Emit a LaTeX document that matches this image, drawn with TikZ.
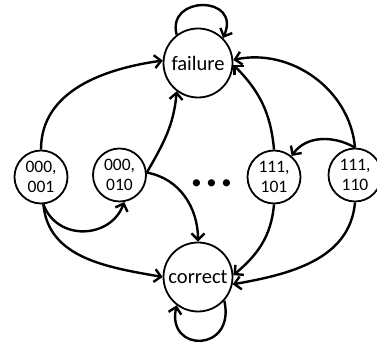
\documentclass[tikz,border=0pt]{standalone}
\usepackage{fontspec}
\setmainfont{Carlito}
\usetikzlibrary{arrows.meta}
\begin{document}
\begin{tikzpicture}[x=1pt,y=1pt,
  bigstate/.style={circle, draw, line width=1.8pt, inner sep=0pt, minimum size=69pt,
    font=\fontsize{20.5}{24}\selectfont},
  smallstate/.style={circle, draw, line width=1.8pt, inner sep=0pt, minimum size=53pt,
    align=center, font=\fontsize{17.5}{20}\selectfont},
  edge/.style={line width=2.4pt, -{Straight Barb[length=6.5pt,width=13pt]}}]
\useasboundingbox (0,0) rectangle (377,347);
\node[bigstate] (F) at (198,284) {failure};
\node[bigstate] (C) at (198,70) {correct};
\node[smallstate] (A) at (41,170) {000,\\001};
\node[smallstate] (B) at (119.5,172) {000,\\010};
\node[smallstate] (D) at (274,170) {111,\\101};
\node[smallstate] (E) at (355,172) {111,\\110};
\node[font=\fontsize{48}{48}\selectfont\bfseries] (dots) at (212,164) {.\hspace{1.8pt}.\hspace{1.8pt}.};
% self loops
\draw[edge] (F.127) .. controls (166,352) and (242,352) .. (F.45);
\draw[edge] (C.-42) .. controls (236,-6) and (166,-6) .. (C.-127);
% from A
\draw[edge] (A.north) to[out=90,in=188] (F.176);
\draw[edge] (A.-85) to[out=-85,in=170] (C.180);
\draw[edge] (A.-85) to[out=-70,in=-110,looseness=1.25] (B.-80);
% from B
\draw[edge] (B.5) to[out=60,in=-95] (F.-127);
\draw[edge] (B.5) to[out=-10,in=90] (C.north);
% from D
\draw[edge] (D.north) to[out=95,in=-45] (F.-3);
\draw[edge] (D.south) to[out=-95,in=40] (C.3);
% from E
\draw[edge] (E.north) to[out=95,in=12] (F.5);
\draw[edge] (E.north) to[out=150,in=55] (D.50);
\draw[edge] (E.south) to[out=-95,in=10] (C.-12);
\end{tikzpicture}
\end{document}
